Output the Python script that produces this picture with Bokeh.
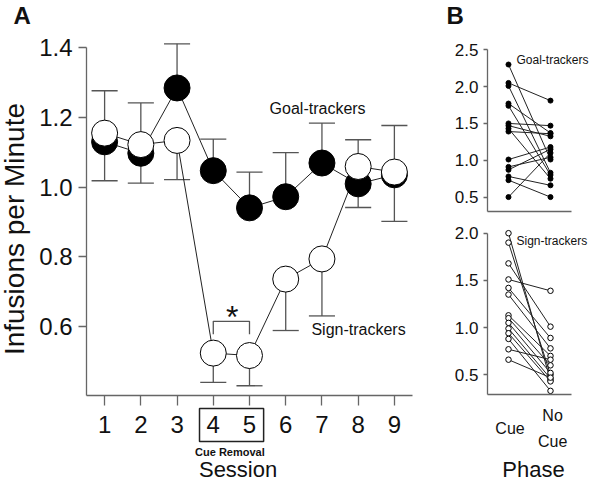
import math
from bokeh.plotting import figure
from bokeh.layouts import row, column
from bokeh.models import Range1d, FixedTicker, Label
from bokeh.embed import file_html
from bokeh.resources import INLINE

# ---------------- data ----------------
sessions = [1, 2, 3, 4, 5, 6, 7, 8, 9]
gt_mean = [1.130, 1.097, 1.285, 1.047, 0.940, 0.972, 1.069, 1.009, 1.035]
gt_upper = [1.277, 1.242, 1.412, 1.138, 1.043, 1.099, 1.184, 1.136, 1.177]
st_mean = [1.155, 1.122, 1.134, 0.522, 0.515, 0.735, 0.793, 1.059, 1.043]
st_lower = [1.018, 1.011, 1.021, 0.438, 0.428, 0.587, 0.629, 0.941, 0.901]

phase_x = [0, 1]
phase_labels = ["Cue", "No Cue"]
gt_cue = [2.30, 2.05, 2.01, 1.77, 1.74, 1.50, 1.47, 1.43, 1.39, 1.01, 0.91, 0.87, 0.78, 0.73, 0.50]
gt_nocue = [1.01, 1.81, 0.83, 1.37, 0.80, 1.47, 1.325, 0.75, 1.36, 1.18, 1.04, 1.15, 0.66, 0.50, 1.10]
st_cue = [2.00, 1.90, 1.68, 1.51, 1.42, 1.35, 1.13, 1.10, 1.05, 0.99, 0.94, 0.88, 0.77, 0.66]
st_nocue = [0.44, 0.50, 1.01, 1.39, 0.89, 0.78, 0.70, 0.60, 0.52, 0.46, 0.43, 0.33, 0.66, 0.47]

a_yticks = [0.6, 0.8, 1.0, 1.2, 1.4]
b1_yticks = [0.5, 1.0, 1.5, 2.0, 2.5]
b2_yticks = [0.5, 1.0, 1.5, 2.0]

FONT = "Liberation Sans"
AX = "#666666"
TXT = "#111111"


def make(width, height, xr, yr):
    p = figure(width=width, height=height, output_backend="svg", toolbar_location=None,
               x_range=Range1d(*xr), y_range=Range1d(*yr),
               min_border_left=0, min_border_right=0, min_border_top=0, min_border_bottom=0)
    p.outline_line_color = None
    p.xgrid.grid_line_color = None
    p.ygrid.grid_line_color = None
    p.background_fill_color = "white"
    p.border_fill_color = "white"
    for ax in p.xaxis + p.yaxis:
        ax.axis_line_color = AX
        ax.axis_line_width = 1.3
        ax.major_tick_line_color = AX
        ax.major_tick_line_width = 1.3
        ax.minor_tick_line_color = None
        ax.major_tick_in = 0
        ax.major_label_text_font = FONT
        ax.major_label_text_color = TXT
    return p


def lab(p, x, y, text, size, align="center", baseline="alphabetic", angle=0.0, bold=False):
    p.add_layout(Label(x=x, y=y, text=text, text_font=FONT, text_font_size=size,
                       text_align=align, text_baseline=baseline, angle=angle,
                       text_color=TXT, text_font_style="bold" if bold else "normal"))


# ---------------- Panel A ----------------
pa = make(430, 481, (-1.8742, 9.997), (0.15252, 1.53669))
pa.yaxis.fixed_location = 0.5
pa.yaxis.ticker = FixedTicker(ticks=a_yticks)
pa.yaxis.major_label_overrides = {t: f"{t:.1f}" for t in a_yticks}
pa.yaxis.bounds = (0.4, 1.4)
pa.yaxis.major_tick_out = 8
pa.yaxis.major_label_standoff = 6
pa.yaxis.major_label_text_font_size = "24px"
pa.xaxis.fixed_location = 0.4
pa.xaxis.bounds = (0.5, 9.5)
pa.xaxis.ticker = FixedTicker(ticks=sessions)
pa.xaxis.major_tick_out = 10
pa.xaxis.major_label_standoff = 10
pa.xaxis.major_label_text_font_size = "24px"

cap = 0.36
ebar = "#555555"
pa.segment(x0=sessions, y0=gt_mean, x1=sessions, y1=gt_upper, line_color=ebar, line_width=1.3)
pa.segment(x0=[s - cap for s in sessions], y0=gt_upper, x1=[s + cap for s in sessions], y1=gt_upper,
           line_color=ebar, line_width=1.3)
pa.segment(x0=sessions, y0=st_mean, x1=sessions, y1=st_lower, line_color=ebar, line_width=1.3)
pa.segment(x0=[s - cap for s in sessions], y0=st_lower, x1=[s + cap for s in sessions], y1=st_lower,
           line_color=ebar, line_width=1.3)
pa.line(sessions, gt_mean, line_color="#222222", line_width=1)
pa.line(sessions, st_mean, line_color="#222222", line_width=1)
pa.scatter(sessions, gt_mean, size=26, fill_color="black", line_color="black", line_width=1)
pa.scatter(sessions, st_mean, size=26, fill_color="white", line_color="black", line_width=1)

# significance bracket between sessions 4 and 5
bracket_x = [4, 5]
bracket_top = 0.6135
bracket_leg = 0.576
pa.line([bracket_x[0], bracket_x[0], bracket_x[1], bracket_x[1]],
        [bracket_leg, bracket_top, bracket_top, bracket_leg], line_color="#555555", line_width=1.3)
lab(pa, 4.52, 0.626, "*", "32px")

lab(pa, 6.88, 1.225, "Goal-trackers", "16px")
lab(pa, 8.01, 0.589, "Sign-trackers", "16px")

# Cue removal box around sessions 4 and 5
pa.quad(left=[3.62], right=[5.39], top=[0.3626], bottom=[0.2676],
        fill_color=None, line_color="#222222", line_width=1.5)
lab(pa, 4.46, 0.2377, "Cue Removal", "11px", bold=True)
lab(pa, 4.685, 0.1873, "Session", "22px")
lab(pa, -1.488, 0.879, "Infusions per Minute", "28px", baseline="middle", angle=math.pi / 2)
lab(pa, -1.515, 1.4941, "A", "24px", align="left", bold=True)

# ---------------- Panel B (top: goal-trackers) ----------------
pb1 = make(159, 220, (-1.8571, 1.9286), (0.1820, 3.1695))
pb1.yaxis.fixed_location = -0.5
pb1.yaxis.bounds = (0.3, 2.5)
pb1.yaxis.ticker = FixedTicker(ticks=b1_yticks)
pb1.yaxis.major_label_overrides = {t: f"{t:.1f}" for t in b1_yticks}
pb1.yaxis.major_tick_out = 4
pb1.yaxis.major_label_standoff = 5
pb1.yaxis.major_label_text_font_size = "17px"
pb1.xaxis.fixed_location = 0.3
pb1.xaxis.bounds = (-0.5, 1.5)
pb1.xaxis.ticker = FixedTicker(ticks=[])
pb1.xaxis.major_tick_out = 0

pb1.segment(x0=[phase_x[0]] * len(gt_cue), y0=gt_cue, x1=[phase_x[1]] * len(gt_nocue), y1=gt_nocue,
            line_color="#222222", line_width=1)
pb1.scatter([phase_x[0]] * len(gt_cue), gt_cue, size=5, fill_color="black", line_color="black")
pb1.scatter([phase_x[1]] * len(gt_nocue), gt_nocue, size=5, fill_color="black", line_color="black")
lab(pb1, 0.1905, 2.356, "Goal-trackers", "12px", align="left")
lab(pb1, -1.476, 2.9685, "B", "24px", align="left", bold=True)

# ---------------- Panel B (bottom: sign-trackers) ----------------
pb2 = make(159, 261, (-1.8571, 1.9286), (-0.6303, 2.1345))
pb2.yaxis.fixed_location = -0.5
pb2.yaxis.bounds = (0.288, 2.0)
pb2.yaxis.ticker = FixedTicker(ticks=b2_yticks)
pb2.yaxis.major_label_overrides = {t: f"{t:.1f}" for t in b2_yticks}
pb2.yaxis.major_tick_out = 4
pb2.yaxis.major_label_standoff = 5
pb2.yaxis.major_label_text_font_size = "17px"
pb2.xaxis.fixed_location = 0.288
pb2.xaxis.bounds = (-0.5, 1.5)
pb2.xaxis.ticker = FixedTicker(ticks=[])
pb2.xaxis.major_tick_out = 0

pb2.segment(x0=[phase_x[0]] * len(st_cue), y0=st_cue, x1=[phase_x[1]] * len(st_nocue), y1=st_nocue,
            line_color="#222222", line_width=1)
pb2.scatter([phase_x[0]] * len(st_cue), st_cue, size=5.5, fill_color="white", line_color="black")
pb2.scatter([phase_x[1]] * len(st_nocue), st_nocue, size=5.5, fill_color="white", line_color="black")
lab(pb2, 0.1905, 1.918, "Sign-trackers", "12px", align="left")

lab(pb2, phase_x[0] + 0.036, -0.074, phase_labels[0], "16px")
no_w, cue_w = phase_labels[1].split(" ")
lab(pb2, phase_x[1] + 0.05, 0.067, no_w, "16px")
lab(pb2, phase_x[1] + 0.05, -0.209, cue_w, "16px")
lab(pb2, 0.595, -0.5022, "Phase", "22px")

layout = row(pa, column(pb1, pb2, spacing=0), spacing=0)
open("out.html", "w").write(file_html(layout, INLINE))
